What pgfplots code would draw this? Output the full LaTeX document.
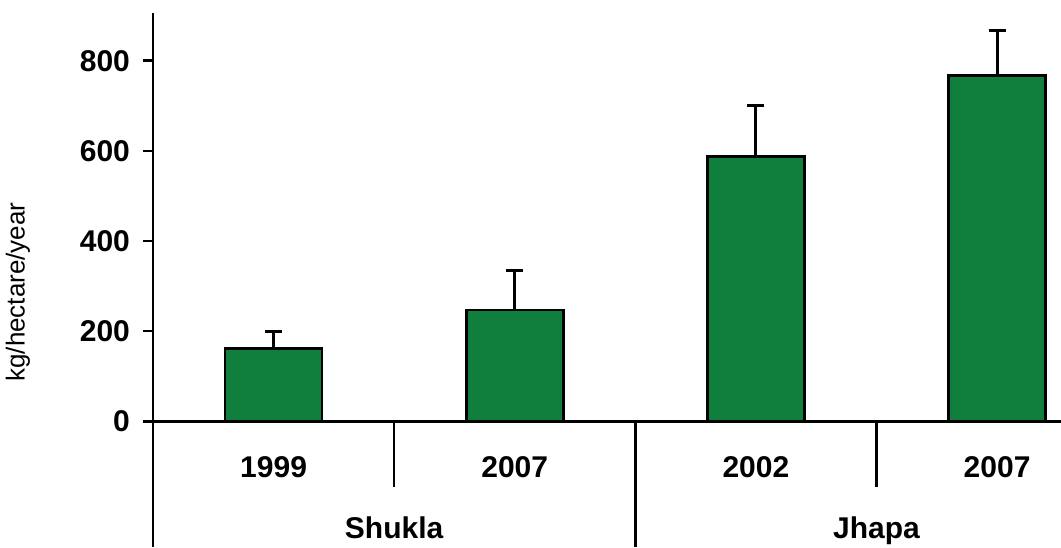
\documentclass[border=0pt]{standalone}
\usepackage{fontspec}
\setmainfont{Liberation Sans}
\usepackage{pgfplots}
\usepackage{pgfplotstable}
\pgfplotsset{compat=1.18}

\definecolor{bargreen}{RGB}{16,127,62}

% deposition, kg/hectare/year, mean and upper error
\pgfplotstableread{
x  y    err
0  161  38
1  247  87
2  587  113
3  767  100
}\deposition

\begin{document}
\begin{tikzpicture}
\begin{axis}[
    name=ax,
    scale only axis,
    width=454pt, height=267pt,
    xmin=-0.5, xmax=3.265,
    ymin=-279, ymax=906,
    axis x line=middle,
    axis y line=left,
    axis line style={-, line width=1.3pt, black},
    hide obscured x ticks=false,
    hide obscured y ticks=false,
    clip=false,
    ytick={0,200,400,600,800},
    xtick={0,1,2,3},
    xticklabels={1999,2007,2002,2007},
    x tick style={draw=none},
    major tick length=5pt,
    tick align=outside,
    y tick style={line width=1.3pt, black},
    /pgf/number format/assume math mode=true,
    tick label style={font=\fontsize{15}{18}\selectfont\bfseries},
    xticklabel style={anchor=base, yshift=-23pt},
    yticklabel style={anchor=east, xshift=-3pt},
    ylabel={kg/hectare/year},
    every axis y label/.style={at={(rel axis cs:0,0.4775)}, xshift=-67.5pt,
        rotate=90, anchor=center, font=\fontsize{13}{16}\selectfont},
]
\addplot[ybar, bar width=48.5pt, fill=bargreen, draw=black, line width=1.3pt,
    error bars/.cd, y dir=plus, y explicit,
    error bar style={line width=1.5pt, black},
    error mark options={rotate=90, line width=1.5pt, mark size=4.25pt, black}]
    table[x=x, y=y, y error=err] {\deposition};

\draw[line width=1.3pt] (axis cs:0.5,0) -- (axis cs:0.5,-145);
\draw[line width=1.3pt] (axis cs:1.5,0) -- (axis cs:1.5,-279);
\draw[line width=1.3pt] (axis cs:2.5,0) -- (axis cs:2.5,-145);
\node[anchor=base, font=\fontsize{15}{18}\selectfont\bfseries] at (axis cs:0.5,-261) {Shukla};
\node[anchor=base, font=\fontsize{15}{18}\selectfont\bfseries] at (axis cs:2.5,-261) {Jhapa};
\end{axis}
\pgfresetboundingbox
\path (ax.south west) ++(-76.5pt,0) rectangle ++(530.5pt,273.5pt);
\end{tikzpicture}
\end{document}
